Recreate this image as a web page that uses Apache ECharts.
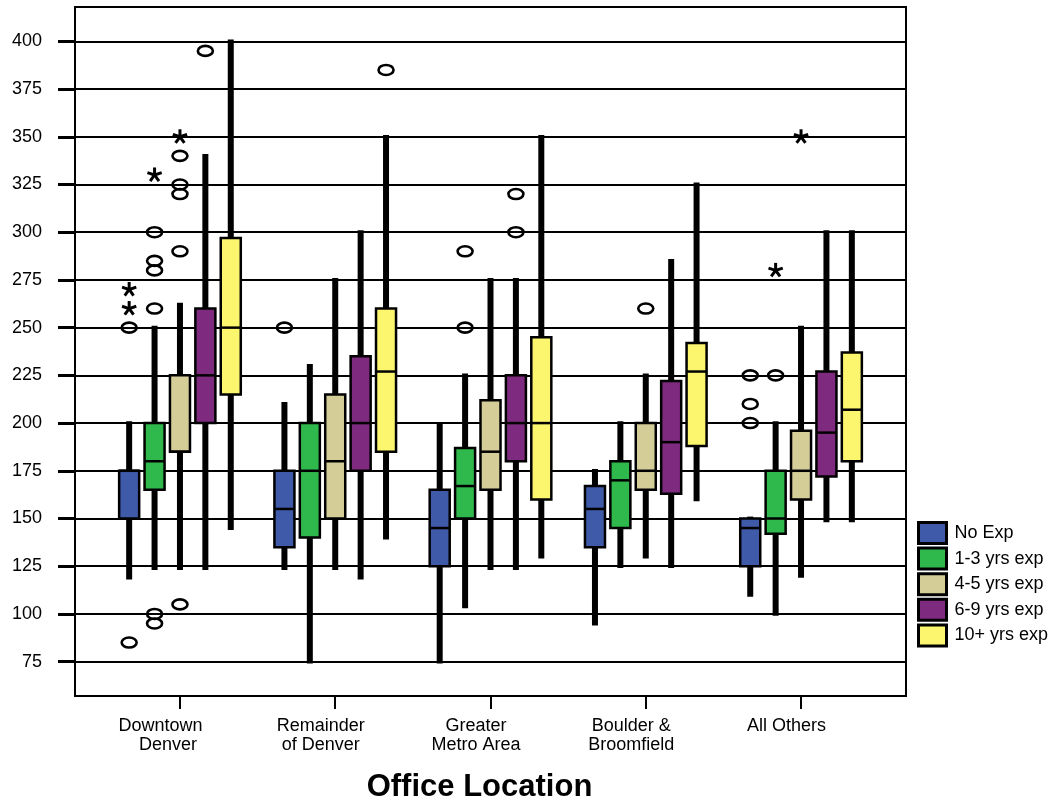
<!DOCTYPE html>
<html>
<head>
<meta charset="utf-8">
<script src="https://cdn.jsdelivr.net/npm/echarts@6/dist/echarts.min.js"></script>
<style>html,body{margin:0;padding:0;background:#fff}#c{width:1053px;height:802px}</style>
</head>
<body>
<div id="c"></div>
<script>
// ---- data ----
const categories = ['Downtown  \n Denver', 'Remainder\nof Denver', 'Greater\nMetro Area', 'Boulder &\nBroomfield', 'All Others'];
const seriesNames = ['No Exp', '1-3 yrs exp', '4-5 yrs exp', '6-9 yrs exp', '10+ yrs exp'];
const yTicks = [75, 100, 125, 150, 175, 200, 225, 250, 275, 300, 325, 350, 375, 400];
// each row: [whisker low, Q1, median, Q3, whisker high] per category
const noExp = [[118, 150, 175, 175, 201], [123, 135, 155, 175, 211], [74, 125, 145, 165, 200], [94, 135, 155, 167, 176], [109, 125, 145, 150, 151]];
const exp1to3 = [[123, 165, 180, 200, 251], [74, 140, 175, 200, 231], [103, 150, 167, 187, 226], [124, 145, 170, 180, 201], [99, 142, 150, 175, 201]];
const exp4to5 = [[123, 185, 185, 225, 263], [123, 150, 180, 215, 276], [123, 165, 185, 212, 276], [129, 165, 175, 200, 226], [119, 160, 175, 196, 251]];
const exp6to9 = [[123, 200, 225, 260, 341], [118, 175, 200, 235, 301], [123, 180, 200, 225, 276], [124, 163, 190, 222, 286], [148, 172, 195, 227, 301]];
const exp10plus = [[144, 215, 250, 297, 401], [139, 185, 227, 260, 351], [129, 160, 200, 245, 351], [159, 188, 227, 242, 326], [148, 180, 207, 237, 301]];
// outliers: [category index, series index, value]
const outlierCircles = [
  [0, 0, 85], [0, 0, 250], [0, 1, 95], [0, 1, 100], [0, 1, 260], [0, 1, 280], [0, 1, 285], [0, 1, 300],
  [0, 2, 105], [0, 2, 290], [0, 2, 320], [0, 2, 325], [0, 2, 340], [0, 3, 395],
  [1, 0, 250], [1, 4, 385],
  [2, 1, 250], [2, 1, 290], [2, 3, 300], [2, 3, 320],
  [3, 2, 260],
  [4, 0, 200], [4, 0, 210], [4, 0, 225], [4, 1, 225]
];
const outlierStars = [[0, 0, 260], [0, 0, 270], [0, 1, 330], [0, 2, 350], [4, 1, 280], [4, 2, 350]];

const allSeries = [noExp, exp1to3, exp4to5, exp6to9, exp10plus];
const colors = ['#3e5aa9', '#2fb84b', '#d4cd98', '#7e2a7e', '#fcf66f'];
const offsets = [-2, -1, 0, 1, 2].map(k => k * 0.1636);
const boxW = 0.129;
const FONT = "'Liberation Sans', Arial, sans-serif";

function boxRenderer(s) {
  return function (params, api) {
    const x = api.value(0) + offsets[s];
    const lo = api.coord([x, api.value(1)]);
    const q1 = api.coord([x, api.value(2)]);
    const md = api.coord([x, api.value(3)]);
    const q3 = api.coord([x, api.value(4)]);
    const hi = api.coord([x, api.value(5)]);
    const hw = api.size([boxW, 0])[0] / 2;
    const px = lo[0];
    return {
      type: 'group',
      children: [
        { type: 'line', shape: { x1: px, y1: hi[1], x2: px, y2: lo[1] }, style: { stroke: '#000', lineWidth: 6, lineCap: 'butt' } },
        { type: 'rect', shape: { x: px - hw, y: q3[1], width: hw * 2, height: q1[1] - q3[1] }, style: { fill: colors[s], stroke: '#000', lineWidth: 2.5 } },
        { type: 'line', shape: { x1: px - hw, y1: md[1], x2: px + hw, y2: md[1] }, style: { stroke: '#000', lineWidth: 2.5 } }
      ]
    };
  };
}

function circleRenderer(params, api) {
  const p = api.coord([api.value(0) + offsets[api.value(1)], api.value(2)]);
  return { type: 'ellipse', shape: { cx: p[0], cy: p[1], rx: 7.5, ry: 5 }, style: { fill: 'none', stroke: '#000', lineWidth: 2.6 } };
}

function starRenderer(params, api) {
  const p = api.coord([api.value(0) + offsets[api.value(1)], api.value(2)]);
  const r = 7.5;
  const children = [];
  for (let k = 0; k < 5; k++) {
    const a = -Math.PI / 2 + k * 2 * Math.PI / 5;
    children.push({ type: 'line', shape: { x1: p[0], y1: p[1], x2: p[0] + r * Math.cos(a), y2: p[1] + r * Math.sin(a) }, style: { stroke: '#000', lineWidth: 3 } });
  }
  return { type: 'group', children };
}

const series = allSeries.map((arr, s) => ({
  name: seriesNames[s],
  type: 'custom',
  color: colors[s],
  itemStyle: { color: colors[s] },
  renderItem: boxRenderer(s),
  encode: { x: 0, y: [1, 2, 3, 4, 5] },
  data: arr.map((d, i) => [i].concat(d)),
  z: 3
}));
series.push({
  name: 'outliers', type: 'custom', renderItem: circleRenderer,
  encode: { x: 0, y: 2 }, data: outlierCircles, z: 4
});
series.push({
  name: 'extremes', type: 'custom', renderItem: starRenderer,
  encode: { x: 0, y: 2 }, data: outlierStars, z: 4
});

const chart = echarts.init(document.getElementById('c'), null, { renderer: 'canvas' });
chart.setOption({
  animation: false,
  backgroundColor: '#fff',
  textStyle: { fontFamily: FONT },
  grid: { left: 75, top: 7, right: 147, bottom: 106, outerBoundsMode: 'none', containLabel: false, show: true, borderColor: '#000', borderWidth: 2, backgroundColor: 'transparent' },
  legend: {
    data: seriesNames,
    orient: 'vertical',
    left: 917, top: 521, padding: 0,
    itemWidth: 28, itemHeight: 21, itemGap: 1.6,
    icon: 'rect',
    itemStyle: { borderColor: '#000', borderWidth: 3 },
    textStyle: { fontSize: 18, color: '#000', fontFamily: FONT, padding: [0, 0, 0, 3] }
  },
  xAxis: {
    type: 'value',
    min: -0.676, max: 4.676,
    name: 'Office Location',
    nameLocation: 'middle',
    nameGap: 76,
    nameTextStyle: { fontSize: 31, fontWeight: 'bold', color: '#000', fontFamily: FONT, padding: [0, 22, 0, 0] },
    axisLine: { show: true, onZero: false, lineStyle: { color: '#000', width: 2 } },
    axisTick: { show: true, length: 13, lineStyle: { color: '#000', width: 2 }, customValues: [0, 1, 2, 3, 4] },
    axisLabel: { customValues: [0, 1, 2, 3, 4], formatter: v => categories[Math.round(v)], fontSize: 18, lineHeight: 19, color: '#000', margin: 21, padding: [0, 29, 0, 0], fontFamily: FONT },
    splitLine: { show: false }
  },
  yAxis: {
    type: 'value',
    min: 57, max: 418,
    axisLine: { show: true, onZero: false, lineStyle: { color: '#000', width: 2 } },
    axisTick: { show: true, length: 17, lineStyle: { color: '#000', width: 3 }, customValues: yTicks },
    axisLabel: { customValues: yTicks, fontSize: 18, color: '#000', margin: 33, fontFamily: FONT },
    splitLine: { show: true, lineStyle: { color: '#000', width: 2 } }
  },
  series: series
});
</script>
</body>
</html>
